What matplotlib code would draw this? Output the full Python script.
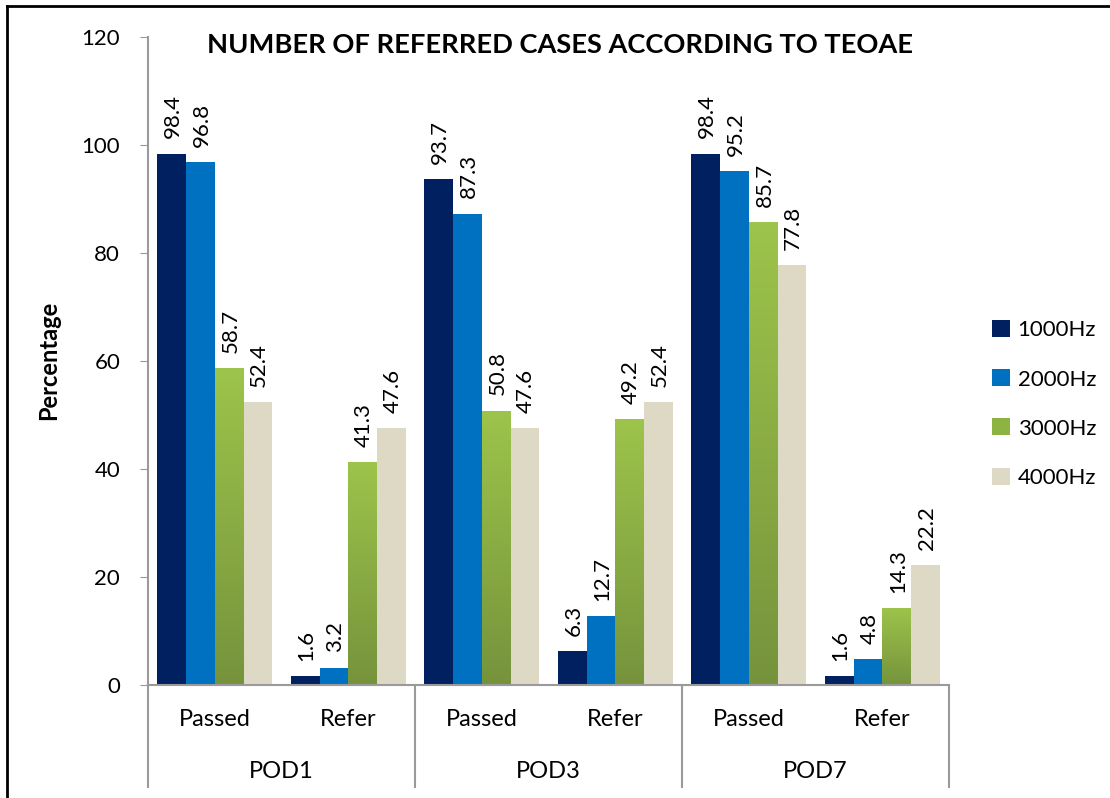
import matplotlib
matplotlib.use("Agg")
import matplotlib.pyplot as plt
import numpy as np
from matplotlib.lines import Line2D
from matplotlib.patches import Patch
from matplotlib.colors import LinearSegmentedColormap
import matplotlib.transforms as mtransforms

plt.rcParams['font.family'] = ['Lato', 'DejaVu Sans']

groups = ["POD1", "POD3", "POD7"]
categories = ["Passed", "Refer", "Passed", "Refer", "Passed", "Refer"]
series_names = ["1000Hz", "2000Hz", "3000Hz", "4000Hz"]
hz1000 = [98.4, 1.6, 93.7, 6.3, 98.4, 1.6]
hz2000 = [96.8, 3.2, 87.3, 12.7, 95.2, 4.8]
hz3000 = [58.7, 41.3, 50.8, 49.2, 85.7, 14.3]
hz4000 = [52.4, 47.6, 47.6, 52.4, 77.8, 22.2]
series = [hz1000, hz2000, hz3000, hz4000]
colors = ["#00205F", "#0070C0", "#8DB443", "#DDD9C4"]

W, H = 1110, 798
fig = plt.figure(figsize=(W / 100, H / 100), dpi=100)
ax = fig.add_axes([148 / W, 1 - 685 / H, (949 - 148) / W, (685 - 37) / H])

n = len(categories)
x = np.arange(n)
bw = 0.215
green_cmap = LinearSegmentedColormap.from_list("g", ["#76933C", "#9DC44B"])
grad = np.linspace(0, 1, 256).reshape(-1, 1)

for i, (vals, col) in enumerate(zip(series, colors)):
    pos = x + (i - 1.5) * bw
    bars = ax.bar(pos, vals, width=bw, color=col, zorder=2, linewidth=0)
    if i == 2:
        for b in bars:
            x0 = b.get_x()
            h = b.get_height()
            im = ax.imshow(grad, extent=[x0, x0 + bw, 0, h], origin='lower',
                           cmap=green_cmap, aspect='auto', zorder=2.5)
            im.set_clip_path(b)
    for p, v in zip(pos, vals):
        ax.annotate(f"{v:.1f}", xy=(p, v), xytext=(1, 11), textcoords="offset points",
                    rotation=90, ha="center", va="bottom", fontsize=16, color="#000000")

ax.set_xlim(-0.5, n - 0.5)
ax.set_ylim(0, 120)
ax.set_yticks(np.arange(0, 121, 20))
ax.tick_params(axis='y', labelsize=16, length=6, color="#9A9A9A", pad=14)
ax.set_xticks([])
for s in ["top", "right"]:
    ax.spines[s].set_visible(False)
for s in ["left", "bottom"]:
    ax.spines[s].set_color("#9A9A9A")
    ax.spines[s].set_linewidth(1.5)

ax.set_ylabel("Percentage", fontsize=17, fontweight="bold")
ax.yaxis.set_label_coords((60 - 148) / (949 - 148), (685 - 360) / (685 - 37))

trans = mtransforms.blended_transform_factory(ax.transData, ax.transAxes)
ybot = (685 - 787) / (685 - 37)
for xs in [-0.5, 1.5, 3.5, 5.5]:
    ax.add_line(Line2D([xs, xs], [0, ybot], transform=trans,
                       color="#9A9A9A", lw=1.5, clip_on=False))

ycat = (685 - 720) / (685 - 37)
ygrp = (685 - 772) / (685 - 37)
for xi, c in zip(x, categories):
    ax.text(xi, ycat, c, transform=trans, ha="center", va="center", fontsize=17)
for gi, g in enumerate(groups):
    ax.text(2 * gi + 0.5, ygrp, g, transform=trans, ha="center", va="center", fontsize=17)

ax.text((560 - 148) / (949 - 148), (685 - 45) / (685 - 37), "NUMBER OF REFERRED CASES ACCORDING TO TEOAE",
        transform=ax.transAxes, ha="center", va="center", fontsize=19.6, fontweight="bold")

handles = [Patch(facecolor=c, edgecolor="none") for c in colors]
leg = fig.legend(handles, series_names, loc="center left", bbox_to_anchor=(972 / W, 1 - 404 / H),
                 frameon=False, fontsize=16, handlelength=0.8, handleheight=0.8,
                 labelspacing=1.3, handletextpad=0.35)

fig.add_artist(Line2D([7 / W, 1.0], [1 - 6 / H, 1 - 6 / H], transform=fig.transFigure, color="black", lw=2))
fig.add_artist(Line2D([7 / W, 7 / W], [0, 1 - 6 / H], transform=fig.transFigure, color="black", lw=2))

fig.savefig("out.png", dpi=100)
